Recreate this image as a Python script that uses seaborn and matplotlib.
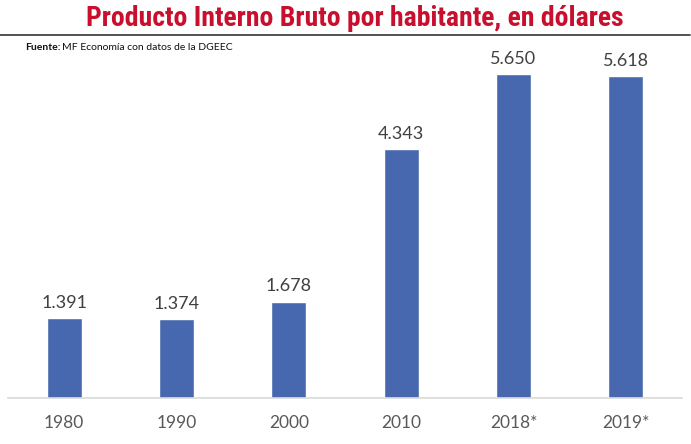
import matplotlib
matplotlib.use('Agg')
import pandas as pd
import seaborn as sns
import matplotlib.pyplot as plt
from matplotlib.lines import Line2D

years = ['1980', '1990', '2000', '2010', '2018*', '2019*']
pib = [1391, 1374, 1678, 4343, 5650, 5618]
labels = ['1.391', '1.374', '1.678', '4.343', '5.650', '5.618']

df = pd.DataFrame({'year': years, 'pib': pib})

sns.set_style('white')
plt.rcParams['font.family'] = ['Lato', 'DejaVu Sans']

fig = plt.figure(figsize=(6.91, 4.44), dpi=100)
ax = fig.add_axes([0.0116, 0.1036, 0.9754, 0.7834])

sns.barplot(data=df, x='year', y='pib', ax=ax, color='#4768ae', width=0.31, saturation=1)
ax.set_ylim(0, 6070)
ax.set_xlim(-0.5, 5.5)
for i, (v, t) in enumerate(zip(pib, labels)):
    ax.text(i, v + 130, t, ha='center', va='bottom', fontsize=13, color='#404040')

ax.set_xlabel('')
ax.set_ylabel('')
ax.set_yticks([])
ax.tick_params(axis='x', length=0, labelsize=12.5, labelcolor='#595959', pad=12)
for s in ['top', 'right', 'left']:
    ax.spines[s].set_visible(False)
ax.spines['bottom'].set_color('#d9d9d9')
ax.spines['bottom'].set_linewidth(1.2)

fig.text(0.513, 0.958, 'Producto Interno Bruto por habitante, en dólares',
         ha='center', va='center', fontsize=20, fontweight='bold', color='#c8102e',
         family=['Roboto Condensed', 'Roboto', 'DejaVu Sans'], fontstretch='condensed')
fig.add_artist(Line2D([0, 0.999], [0.922, 0.922], color='#333333', linewidth=1.2,
                      transform=fig.transFigure))

src = fig.text(0.036, 0.892, 'Fuente:', ha='left', va='center', fontsize=7.5,
               fontweight='bold', color='#111111')
fig.canvas.draw()
bb = src.get_window_extent().transformed(fig.transFigure.inverted())
fig.text(bb.x1 + 0.003, 0.892, 'MF Economía con datos de la DGEEC', ha='left', va='center',
         fontsize=7.5, color='#111111')

fig.savefig('out.png', dpi=100)
plt.close()
